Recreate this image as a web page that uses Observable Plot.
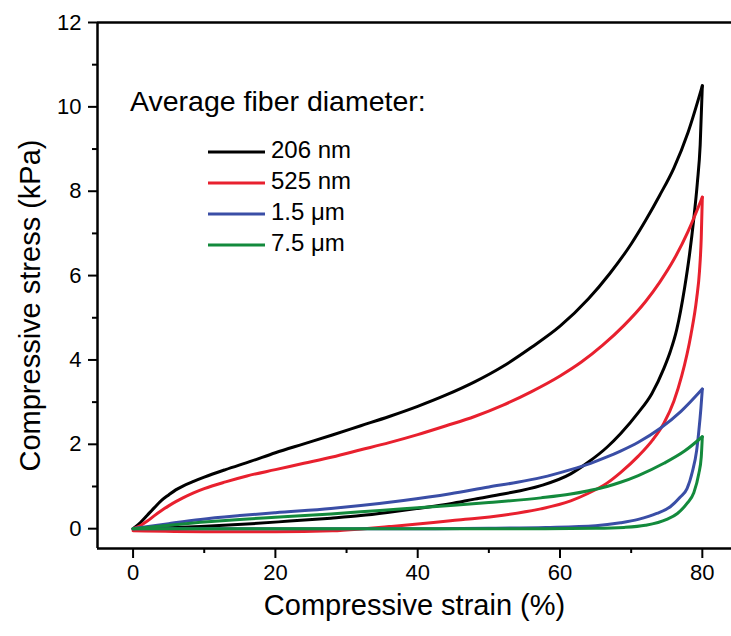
<!DOCTYPE html>
<html>
<head>
<meta charset="utf-8">
<script src="https://cdn.jsdelivr.net/npm/d3@7"></script>
<script src="https://cdn.jsdelivr.net/npm/@observablehq/plot@0.6"></script>
<style>
  html, body { margin: 0; padding: 0; background: #fff; }
  #chart { width: 731px; height: 636px; }
</style>
</head>
<body>
<div id="chart"></div>
<script>
// ---- Data ----
const seriesNames = ["206 nm", "525 nm", "1.5 μm", "7.5 μm"];
const seriesColors = ["#000000", "#e8202e", "#3a4ea6", "#138a3c"];

const xTicks = [0, 20, 40, 60, 80];
const xMinorTicks = [10, 30, 50, 70];
const yTicks = [0, 2, 4, 6, 8, 10, 12];
const yMinorTicks = [1, 3, 5, 7, 9, 11];

// 206 nm — loading branch and unloading branch (both listed by increasing strain)
const loadStrain206 = [0,1,2,3,4,5,6,7,8.5,10,13,16.6,20,24,28,32,36,40,44,48,52,56,60,64,67,70,72,74,76,78,80];
const loadStress206 = [0,0.14,0.32,0.5,0.67,0.8,0.92,1.01,1.12,1.22,1.4,1.6,1.8,2.01,2.22,2.44,2.66,2.9,3.17,3.48,3.85,4.3,4.8,5.45,6.05,6.75,7.3,7.9,8.55,9.4,10.5];
const unloadStrain206 = [0,5,9.5,16,22,27.8,32,36,40,44.6,48,52,57.3,61.5,64,66.6,68.5,71,72.9,74.6,75.5,76.4,77.5,78.2,78.8,79.3,79.7,80];
const unloadStress206 = [0,0.02,0.05,0.11,0.18,0.25,0.31,0.39,0.48,0.59,0.7,0.82,1.02,1.3,1.58,1.93,2.25,2.75,3.2,3.8,4.2,4.72,5.7,6.5,7.35,8.2,9.1,10.5];

// 525 nm
const loadStrain525 = [0,1,2,3,4,5,6,7,8.5,10,13,16,20,24,28,32,36,40,44,48,52,56,60,63,66,69,72,74,76,78,80];
const loadStress525 = [0,0.07,0.18,0.31,0.43,0.54,0.64,0.73,0.85,0.95,1.11,1.25,1.4,1.55,1.7,1.87,2.04,2.23,2.44,2.66,2.93,3.25,3.62,3.95,4.35,4.82,5.38,5.84,6.38,7.05,7.86];
const unloadStrain525 = [0,10,20,28,32.5,36,40,44.6,48,52,57.3,61.5,64,66.6,68.5,71,73,74.6,76,77.1,78.4,79.2,79.6,79.85,80];
const unloadStress525 = [-0.05,-0.07,-0.07,-0.05,0,0.05,0.11,0.19,0.24,0.32,0.47,0.66,0.84,1.08,1.33,1.72,2.1,2.5,3.02,3.62,4.6,5.45,6.1,6.9,7.86];

// 1.5 μm
const loadStrain1500 = [0,5,9.5,15,20,27.8,32,38,44.6,50,54,57.3,61.5,64.3,66.6,68.5,71,74.1,77,80];
const loadStress1500 = [0,0.12,0.22,0.31,0.38,0.48,0.55,0.67,0.83,0.99,1.1,1.21,1.4,1.55,1.7,1.84,2.05,2.38,2.78,3.31];
const unloadStrain1500 = [0,20,40,50,58,65,68.5,71,73.6,75.5,76.9,77.85,78.6,79.2,79.5,79.8,80];
const unloadStress1500 = [0,0,0,0.01,0.03,0.07,0.14,0.22,0.36,0.52,0.75,0.95,1.35,1.85,2.3,2.85,3.31];

// 7.5 μm
const loadStrain7500 = [0,5,9.5,15,20,27.8,32,38,44.6,50,57.3,61.5,64,66.6,68.5,71,74.6,77.5,80];
const loadStress7500 = [0,0.08,0.15,0.22,0.27,0.35,0.4,0.47,0.55,0.62,0.73,0.82,0.9,1.0,1.1,1.26,1.55,1.84,2.18];
const unloadStrain7500 = [0,30,55,65,69,72,75,76.5,77.85,78.8,79.5,79.85,80];
const unloadStress7500 = [0,0,0,0.01,0.03,0.08,0.22,0.36,0.6,0.85,1.3,1.7,2.18];

const branches = [
  [seriesNames[0], "load", loadStrain206, loadStress206],
  [seriesNames[0], "unload", unloadStrain206, unloadStress206],
  [seriesNames[1], "load", loadStrain525, loadStress525],
  [seriesNames[1], "unload", unloadStrain525, unloadStress525],
  [seriesNames[2], "load", loadStrain1500, loadStress1500],
  [seriesNames[2], "unload", unloadStrain1500, unloadStress1500],
  [seriesNames[3], "load", loadStrain7500, loadStress7500],
  [seriesNames[3], "unload", unloadStrain7500, unloadStress7500]
];
const rows = branches.flatMap(([name, branch, xs, ys]) =>
  xs.map((x, i) => ({series: name, key: name + "|" + branch, x, y: ys[i]})));

const FONT = "'Liberation Sans', Arial, Helvetica, sans-serif";
const xDomain = [-5, 84.1];
const yDomain = [-0.47, 12];

const plot = Plot.plot({
  width: 731,
  height: 636,
  marginLeft: 97,
  marginRight: 0,
  marginTop: 22,
  marginBottom: 88,
  style: {fontFamily: FONT, fontSize: "22px", color: "#000", background: "#fff"},
  x: {domain: xDomain},
  y: {domain: yDomain},
  color: {domain: seriesNames, range: seriesColors},
  marks: [
    Plot.axisX({ticks: xTicks, tickSize: 10, tickPadding: 6, strokeWidth: 2, label: null, fontSize: 22}),
    Plot.axisX({ticks: xMinorTicks, tickSize: 5, strokeWidth: 2, text: null, label: null}),
    Plot.axisY({ticks: yTicks, tickSize: 9, tickPadding: 7, strokeWidth: 2, label: null, fontSize: 22}),
    Plot.axisY({ticks: yMinorTicks, tickSize: 5, strokeWidth: 2, text: null, label: null}),
    Plot.line(rows, {x: "x", y: "y", z: "key", stroke: "series", strokeWidth: 3,
      curve: "monotone-x", strokeLinecap: "round", strokeLinejoin: "round"}),
    Plot.ruleX([xDomain[0]], {stroke: "#000", strokeWidth: 2.5}),
    Plot.ruleY([yDomain[0], yDomain[1]], {stroke: "#000", strokeWidth: 2.5}),
    Plot.text(["Compressive strain (%)"], {frameAnchor: "bottom", dy: 57, fontSize: 29, lineAnchor: "middle"}),
    Plot.text(["Compressive stress (kPa)"], {frameAnchor: "left", dx: -67, dy: 20, rotate: -90, fontSize: 29, lineAnchor: "middle", textAnchor: "middle"})
  ]
});
document.getElementById("chart").appendChild(plot);

// ---- Legend (layout only) ----
const svg = d3.select(plot);
const leg = svg.append("g").attr("font-family", FONT).attr("fill", "#000").attr("text-anchor", "start");
leg.append("text").attr("x", 130).attr("y", 103).attr("dominant-baseline", "middle")
  .attr("font-size", 28.5).text("Average fiber diameter:");
seriesNames.forEach((name, i) => {
  const cy = 152 + i * 31;
  leg.append("line").attr("x1", 208).attr("x2", 265).attr("y1", cy).attr("y2", cy)
    .attr("stroke", seriesColors[i]).attr("stroke-width", 3);
  leg.append("text").attr("x", 271).attr("y", cy).attr("dominant-baseline", "middle")
    .attr("font-size", 24).text(name);
});
</script>
</body>
</html>
